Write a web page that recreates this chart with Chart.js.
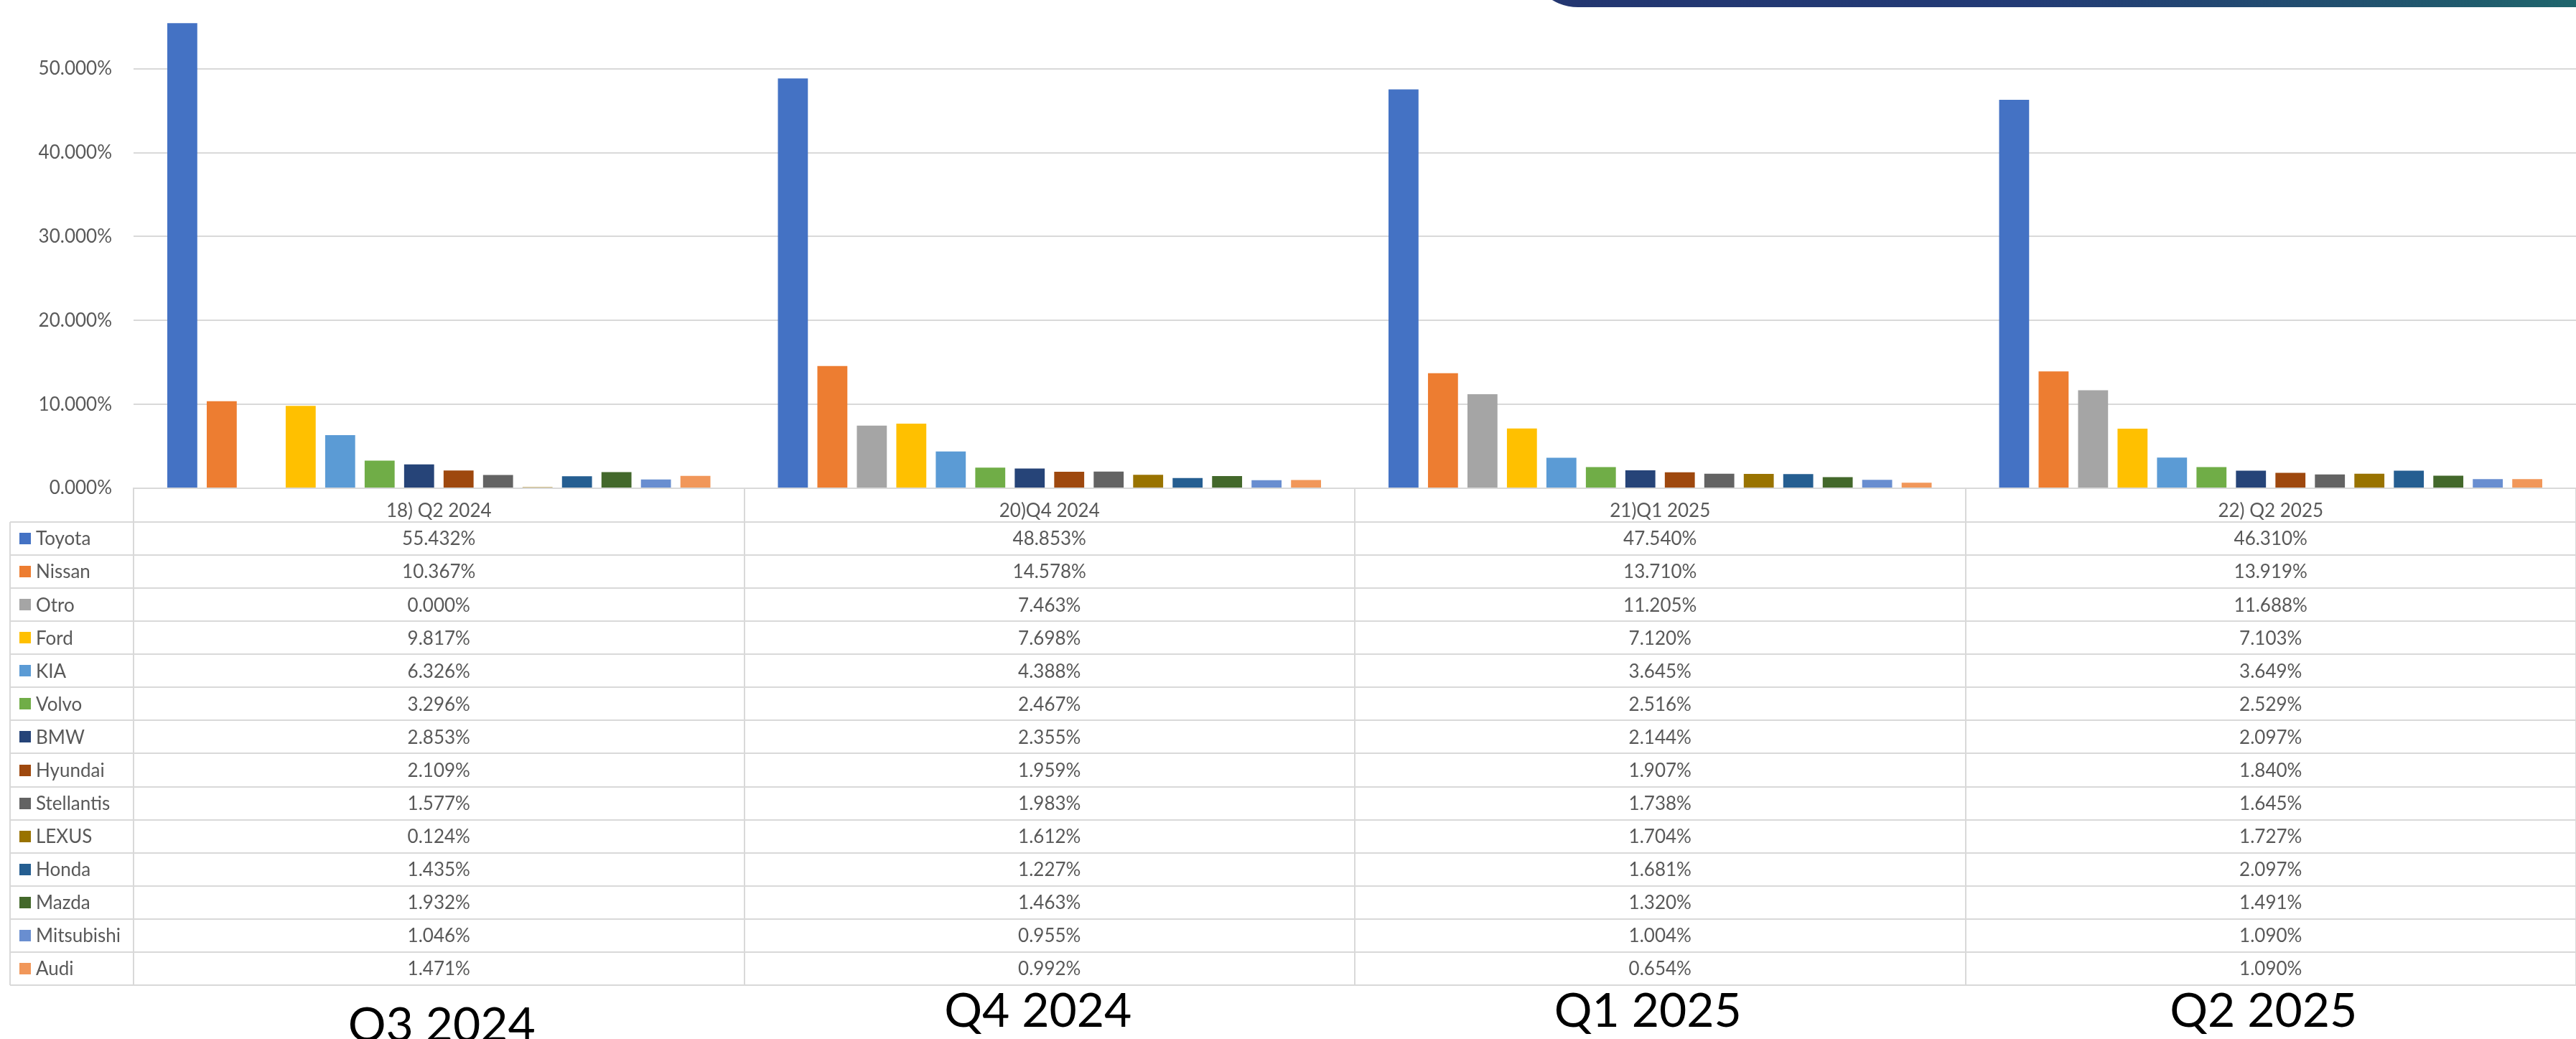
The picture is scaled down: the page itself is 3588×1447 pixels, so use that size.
<!DOCTYPE html>
<html>
<head>
<meta charset="utf-8">
<script src="https://cdn.jsdelivr.net/npm/chart.js@4/dist/chart.umd.min.js"></script>
<style>
  html, body { margin: 0; padding: 0; background: #ffffff; overflow: hidden; }
  #wrap { position: relative; width: 3588px; height: 1447px; }
  #banner {
    position: absolute; left: 2128px; top: -60px; width: 1520px; height: 70px;
    border-radius: 0 0 0 70px;
    background: linear-gradient(90deg, #233670 0%, #233b76 45%, #22506f 75%, #1f6a6c 100%);
    z-index: 2;
  }
  canvas { position: absolute; left: 0; top: 0; }
</style>
</head>
<body>
<div id="wrap">
  <canvas id="c" width="3588" height="1447"></canvas>
  <div id="banner"></div>
</div>
<script>
// ---------- DATA ----------
const periods = ['18) Q2 2024', '20)Q4 2024', '21)Q1 2025', '22) Q2 2025'];
const slideLabels = ['Q3 2024', 'Q4 2024', 'Q1 2025', 'Q2 2025'];
const brands = ['Toyota', 'Nissan', 'Otro', 'Ford', 'KIA', 'Volvo', 'BMW', 'Hyundai',
                'Stellantis', 'LEXUS', 'Honda', 'Mazda', 'Mitsubishi', 'Audi'];
const toyota     = [55.432, 48.853, 47.540, 46.310];
const nissan     = [10.367, 14.578, 13.710, 13.919];
const otro       = [0.000, 7.463, 11.205, 11.688];
const ford       = [9.817, 7.698, 7.120, 7.103];
const kia        = [6.326, 4.388, 3.645, 3.649];
const volvo      = [3.296, 2.467, 2.516, 2.529];
const bmw        = [2.853, 2.355, 2.144, 2.097];
const hyundai    = [2.109, 1.959, 1.907, 1.840];
const stellantis = [1.577, 1.983, 1.738, 1.645];
const lexus      = [0.124, 1.612, 1.704, 1.727];
const honda      = [1.435, 1.227, 1.681, 2.097];
const mazda      = [1.932, 1.463, 1.320, 1.491];
const mitsubishi = [1.046, 0.955, 1.004, 1.090];
const audi       = [1.471, 0.992, 0.654, 1.090];
const yTicks     = [0, 10, 20, 30, 40, 50];

// ---------- STYLE ----------
const seriesValues = [toyota, nissan, otro, ford, kia, volvo, bmw, hyundai,
                      stellantis, lexus, honda, mazda, mitsubishi, audi];
const colors = ['#4472C4', '#ED7D31', '#A5A5A5', '#FFC000', '#5B9BD5', '#70AD47', '#264478',
                '#9E480E', '#636363', '#997300', '#255E91', '#43682B', '#698ED0', '#F1975A'];
const FONT = 'Lato, "Open Sans", "Liberation Sans", sans-serif';
const TEXT_GRAY = '#595959';
const LINE = '#d9d9d9';
const Y_MAX = 58.2;
const HEADER_H = 47;
const ROW_H = 46.07;
const TABLE_LEFT = 14;
const slideLabelShift = [[4, 4], [-16, -16], [-17, -16], [-10, -16]]; // [dx, dy] layout nudges

const datasets = brands.map((b, i) => ({
  label: b,
  data: seriesValues[i],
  backgroundColor: colors[i],
  borderWidth: 0,
  categoryPercentage: 0.905,
  barPercentage: 0.76
}));

const tablePlugin = {
  id: 'dataTable',
  afterDraw(chart) {
    const { ctx, chartArea: ca, scales: { x } } = chart;
    const top = ca.bottom;
    const bodyTop = top + HEADER_H;
    const bottom = bodyTop + ROW_H * brands.length;
    const colW = (ca.right - ca.left) / periods.length;
    ctx.save();
    ctx.strokeStyle = LINE;
    ctx.lineWidth = 2;
    ctx.beginPath();
    for (let c = 0; c <= periods.length; c++) {
      const xx = Math.round(ca.left + c * colW);
      ctx.moveTo(xx, top); ctx.lineTo(xx, bottom);
    }
    ctx.moveTo(TABLE_LEFT, bodyTop); ctx.lineTo(TABLE_LEFT, bottom);
    for (let r = 0; r <= brands.length; r++) {
      const yy = Math.round(bodyTop + r * ROW_H);
      ctx.moveTo(TABLE_LEFT, yy); ctx.lineTo(ca.right, yy);
    }
    ctx.stroke();

    ctx.font = '26px ' + FONT;
    ctx.textBaseline = 'middle';
    brands.forEach((b, r) => {
      const cy = bodyTop + r * ROW_H + ROW_H / 2;
      ctx.fillStyle = colors[r];
      ctx.fillRect(27, Math.round(cy - 8), 16, 16);
      ctx.fillStyle = TEXT_GRAY;
      ctx.textAlign = 'left';
      ctx.fillText(b, 50, cy + 1);
      ctx.textAlign = 'center';
      seriesValues[r].forEach((v, c) => {
        ctx.fillText(v.toFixed(3) + '%', x.getPixelForValue(c), cy + 1);
      });
    });

    ctx.fillStyle = '#000000';
    ctx.font = '66px ' + FONT;
    ctx.textAlign = 'center';
    ctx.textBaseline = 'alphabetic';
    slideLabels.forEach((t, c) => {
      const [dx, dy] = slideLabelShift[c];
      ctx.fillText(t, x.getPixelForValue(c) + dx, bottom + 74 + dy);
    });
    ctx.restore();
  }
};

new Chart(document.getElementById('c'), {
  type: 'bar',
  data: { labels: periods, datasets },
  options: {
    responsive: false,
    devicePixelRatio: 1,
    animation: false,
    layout: { padding: 0 },
    plugins: { legend: { display: false }, tooltip: { enabled: false } },
    scales: {
      x: {
        grid: { display: false },
        border: { display: true, color: LINE, width: 2 },
        ticks: { color: TEXT_GRAY, font: { family: FONT, size: 26 }, padding: 8, maxRotation: 0 },
        afterFit(s) { s.height = 1447 - 680; s.paddingLeft = 0; s.paddingRight = 0; }
      },
      y: {
        min: 0,
        max: Y_MAX,
        grid: { color: LINE, lineWidth: 2, drawTicks: false },
        border: { display: false },
        afterBuildTicks(s) { s.ticks = yTicks.map(v => ({ value: v })); },
        ticks: {
          color: TEXT_GRAY,
          font: { family: FONT, size: 26 },
          padding: 30,
          callback: v => Number(v).toFixed(3) + '%'
        },
        afterFit(s) { s.width = 186; s.paddingTop = 0; s.paddingBottom = 0; }
      }
    }
  },
  plugins: [tablePlugin]
});
</script>
</body>
</html>
